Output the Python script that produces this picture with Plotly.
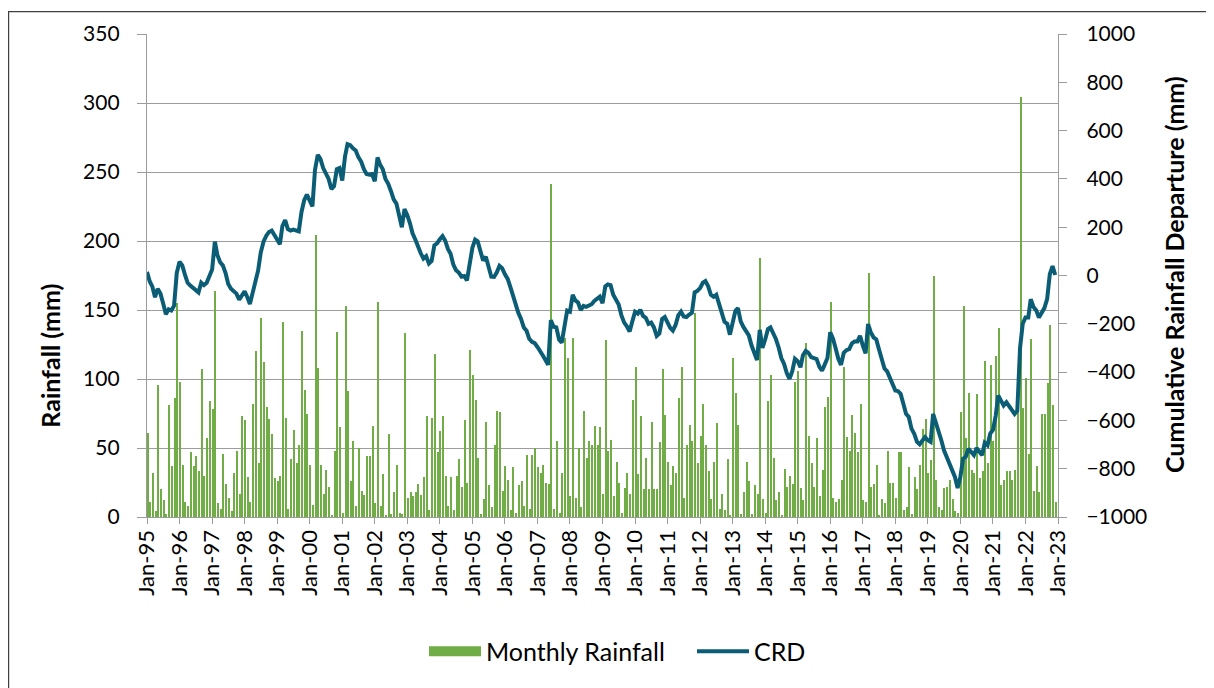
import pandas as pd
import plotly.graph_objects as go

# ---------------- data ----------------
start_month = "1995-01-01"
n_months = 336
tick_labels_fmt = "%b-%y"

monthly_rainfall = [
    61, 11, 32, 4, 96, 20, 12, 2, 81, 37, 86, 155,      # 1995
    98, 38, 11, 8, 47, 37, 44, 33, 107, 30, 57, 84,     # 1996
    78, 164, 10, 6, 46, 24, 14, 4, 32, 48, 17, 73,      # 1997
    70, 29, 11, 82, 120, 39, 144, 112, 80, 71, 60, 28,  # 1998
    26, 30, 141, 72, 6, 42, 63, 39, 52, 135, 92, 75,    # 1999
    38, 9, 204, 108, 38, 17, 34, 22, 1, 48, 134, 65,    # 2000
    3, 153, 91, 26, 55, 8, 50, 19, 16, 44, 44, 66,      # 2001
    10, 156, 8, 31, 1, 60, 2, 18, 38, 3, 2, 133,        # 2002
    14, 18, 15, 18, 24, 16, 29, 73, 5, 72, 118, 47,     # 2003
    62, 73, 30, 8, 29, 5, 30, 42, 22, 70, 25, 121,      # 2004
    103, 85, 43, 2, 13, 69, 23, 7, 52, 77, 76, 19,      # 2005
    37, 27, 5, 36, 3, 23, 26, 8, 45, 6, 45, 50,         # 2006
    36, 32, 38, 25, 24, 241, 6, 55, 3, 32, 130, 115,    # 2007
    15, 130, 14, 50, 7, 77, 43, 55, 52, 66, 52, 65,     # 2008
    17, 128, 48, 56, 15, 40, 25, 3, 21, 32, 17, 85,     # 2009
    109, 31, 73, 20, 43, 20, 69, 20, 20, 54, 107, 74,   # 2010
    40, 23, 37, 32, 86, 109, 14, 52, 67, 55, 148, 39,   # 2011
    59, 82, 52, 33, 13, 40, 68, 6, 17, 5, 42, 1,        # 2012
    115, 90, 67, 2, 18, 40, 26, 2, 23, 17, 188, 13,     # 2013
    3, 84, 103, 43, 12, 18, 1, 35, 22, 30, 24, 98,      # 2014
    106, 21, 12, 126, 59, 39, 22, 57, 15, 34, 80, 87,   # 2015
    156, 14, 11, 13, 27, 109, 58, 48, 74, 61, 47, 82,   # 2016
    12, 11, 177, 22, 24, 38, 1, 13, 10, 48, 25, 25,     # 2017
    14, 47, 47, 5, 7, 36, 2, 29, 20, 38, 64, 71,        # 2018
    32, 41, 175, 27, 7, 5, 21, 22, 27, 13, 4, 3,        # 2019
    76, 153, 57, 90, 34, 32, 89, 28, 33, 113, 39, 110,  # 2020
    55, 117, 137, 23, 27, 33, 33, 27, 34, 79, 304, 79,  # 2021
    101, 46, 129, 19, 37, 18, 75, 75, 97, 139, 81, 11,  # 2022
]

crd = [
    15, -25, -45, -90, -55, -75, -115, -160, -140, -145, -125, 10,            # 1995
    57, 42, 5, -30, -42, -52, -60, -70, -30, -40, -30, -5,                    # 1996
    25, 140, 85, 55, 42, 10, -35, -55, -68, -75, -100, -80,                   # 1997
    -66, -90, -118, -72, -30, 20, 95, 140, 165, 180, 186, 165,                # 1998
    145, 130, 205, 230, 192, 186, 190, 186, 183, 262, 312, 335,               # 1999
    307, 286, 437, 500, 483, 445, 423, 400, 358, 370, 440, 445,               # 2000
    393, 493, 544, 540, 527, 518, 490, 472, 440, 420, 417, 420,               # 2001
    390, 489, 460, 440, 400, 380, 350, 315, 298, 250, 200, 275,               # 2002
    250, 215, 175, 149, 118, 92, 70, 80, 50, 60, 125, 133,                    # 2003
    150, 163, 145, 110, 90, 45, 22, 12, -5, -2, -20, 50,                      # 2004
    115, 149, 142, 101, 62, 78, 35, -5, -6, 12, 40, 30,                       # 2005
    5, -14, -45, -85, -125, -155, -180, -215, -229, -262, -275, -280,         # 2006
    -296, -312, -330, -350, -370, -185, -212, -215, -265, -278, -200, -145,   # 2007
    -150, -80, -103, -112, -143, -126, -130, -126, -119, -105, -98, -88,      # 2008
    -115, -45, -37, -40, -80, -100, -120, -165, -195, -210, -232, -190,       # 2009
    -150, -158, -142, -167, -175, -200, -195, -215, -250, -240, -180, -172,   # 2010
    -200, -218, -228, -205, -165, -150, -170, -172, -162, -155, -70, -64,     # 2011
    -52, -30, -23, -45, -80, -88, -80, -115, -158, -192, -200, -245,          # 2012
    -195, -146, -135, -190, -213, -228, -248, -290, -323, -350, -225, -300,   # 2013
    -265, -222, -215, -236, -263, -298, -342, -366, -405, -428, -396, -345,   # 2014
    -355, -380, -330, -312, -320, -338, -342, -346, -378, -394, -368, -342,   # 2015
    -235, -262, -300, -345, -370, -320, -309, -305, -281, -273, -273, -250,   # 2016
    -290, -322, -201, -236, -256, -265, -305, -340, -385, -397, -421, -449,   # 2017
    -476, -479, -490, -531, -573, -586, -634, -655, -689, -699, -685, -669,   # 2018
    -682, -689, -573, -607, -641, -682, -724, -751, -779, -813, -834, -880,   # 2019
    -834, -758, -751, -717, -731, -744, -714, -731, -744, -693, -703, -655,   # 2020
    -639, -580, -497, -518, -538, -525, -542, -562, -573, -560, -300, -200,   # 2021
    -174, -174, -98, -130, -144, -174, -157, -135, -98, 5, 39, 2,             # 2022
]

series_names = ["Monthly Rainfall", "CRD"]
left_title = "Rainfall (mm)"
right_title = "Cumulative Rainfall Departure (mm)"

months = pd.date_range(start_month, periods=n_months, freq="MS")

# ---------------- styling ----------------
FONT = "Lato"
GREEN = "#70AD47"
TEAL = "#0B5D76"
GRID = "#9C9C9C"
MS_MONTH = 30.44 * 24 * 3600 * 1000

# page geometry (the page has an 8px body margin)
PAGE_OFF = 8
PL, PR, PT, PB = 147, 1058, 32, 517          # plot area in page pixels
W, H = 1214 - PAGE_OFF, 688 - PAGE_OFF
PW, PH = PR - PL, PB - PT


def px_x(x):
    return (x - PL) / PW


def px_y(y):
    return (PB - y) / PH


fig = go.Figure()
fig.add_trace(go.Bar(
    x=months, y=monthly_rainfall, name=series_names[0],
    marker=dict(color=GREEN, line=dict(width=0)),
    width=0.42 * MS_MONTH, offset=0,
    yaxis="y", showlegend=False, legendgroup="rain",
))
# legend entry for the bars (wide green rectangle like the original)
fig.add_trace(go.Scatter(
    x=[None], y=[None], name=series_names[0], mode="lines",
    line=dict(color=GREEN, width=15), legendgroup="rain",
))
fig.add_trace(go.Scatter(
    x=months, y=crd, name=series_names[1], mode="lines",
    line=dict(color=TEAL, width=4),
    yaxis="y2",
))

fig.update_layout(
    width=W, height=H,
    margin=dict(l=PL - PAGE_OFF, r=W - (PR - PAGE_OFF), t=PT - PAGE_OFF, b=H - (PB - PAGE_OFF)),
    paper_bgcolor="white", plot_bgcolor="white",
    font=dict(family=FONT, size=21, color="#000000"),
    showlegend=True,
    legend=dict(orientation="h", x=px_x(424), xanchor="left", y=px_y(652), yanchor="middle",
                font=dict(family=FONT, size=25, color="#000000"),
                itemwidth=52, entrywidth=201, entrywidthmode="pixels",
                traceorder="normal", bgcolor="rgba(0,0,0,0)"),
    bargap=0,
    xaxis=dict(
        type="date",
        range=["1995-01-01", "2023-01-01"],
        tick0="1995-01-01", dtick="M12", tickformat=tick_labels_fmt,
        tickangle=-90, ticks="outside", ticklen=6, tickcolor=GRID, tickwidth=1.4,
        showline=True, linecolor=GRID, linewidth=1.4,
        showgrid=False, zeroline=False,
        tickfont=dict(family=FONT, size=22),
        ticklabelstandoff=-3,
    ),
    yaxis=dict(
        range=[0, 350], dtick=50, tick0=0,
        ticks="outside", ticklen=9, tickcolor=GRID, tickwidth=1.4,
        showline=True, linecolor=GRID, linewidth=1.4,
        showgrid=True, gridcolor=GRID, gridwidth=1.4, zeroline=False,
        ticklabelstandoff=13,
        tickfont=dict(family=FONT, size=21),
    ),
    yaxis2=dict(
        range=[-1000, 1000], dtick=200, tick0=-1000,
        overlaying="y", side="right",
        ticks="outside", ticklen=8, tickcolor=GRID, tickwidth=1.4,
        showline=True, linecolor=GRID, linewidth=1.4,
        showgrid=False, zeroline=False,
        ticklabelstandoff=15,
        tickfont=dict(family=FONT, size=21),
    ),
    annotations=[
        dict(text="<b>" + left_title + "</b>", xref="paper", yref="paper",
             x=px_x(50), y=px_y(355), xanchor="center", yanchor="middle",
             textangle=-90, showarrow=False, font=dict(family=FONT, size=25, color="#000000")),
        dict(text="<b>" + right_title + "</b>", xref="paper", yref="paper",
             x=px_x(1174), y=px_y(274), xanchor="center", yanchor="middle",
             textangle=-90, showarrow=False, font=dict(family=FONT, size=25, color="#000000")),
    ],
    shapes=[dict(
        type="rect", xref="paper", yref="paper",
        x0=px_x(8.6), x1=px_x(1240), y0=px_y(720), y1=px_y(9.6),
        line=dict(color="#404040", width=1.2), fillcolor="rgba(0,0,0,0)", layer="below",
    )],
)

fig.write_html("out.html")
